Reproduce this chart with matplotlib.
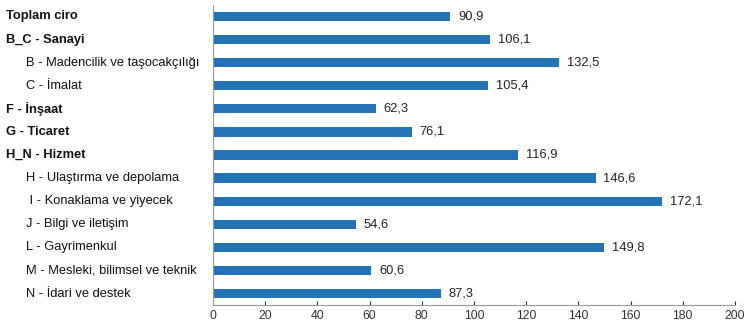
import matplotlib
matplotlib.use("Agg")
import matplotlib.pyplot as plt
from matplotlib.transforms import blended_transform_factory

plt.rcParams['font.family'] = ['Liberation Sans', 'DejaVu Sans']

categories = [
    "Toplam ciro",
    "B_C - Sanayi",
    "B - Madencilik ve taşocakçılığı",
    "C - İmalat",
    "F - İnşaat",
    "G - Ticaret",
    "H_N - Hizmet",
    "H - Ulaştırma ve depolama",
    " I - Konaklama ve yiyecek",
    "J - Bilgi ve iletişim",
    "L - Gayrimenkul",
    "M - Mesleki, bilimsel ve teknik",
    "N - İdari ve destek",
]
values = [90.9, 106.1, 132.5, 105.4, 62.3, 76.1, 116.9, 146.6, 172.1, 54.6, 149.8, 60.6, 87.3]
is_main = [True, True, False, False, True, True, True, False, False, False, False, False, False]
x_ticks = [0, 20, 40, 60, 80, 100, 120, 140, 160, 180, 200]

fig = plt.figure(figsize=(7.5, 3.27), dpi=100)
ax = fig.add_axes([0.284, 0.067, 0.696, 0.918])

ypos = list(range(len(categories)))
ax.barh(ypos, values, height=0.4, color="#2672B6")
for y, v in zip(ypos, values):
    ax.text(v + 3, y, ("%.1f" % v).replace(".", ","), va="center", ha="left",
            fontsize=9.3, color="#222222")

ax.set_ylim(len(categories) - 0.5, -0.5)
ax.set_xlim(0, 200)
ax.set_xticks(x_ticks)
ax.tick_params(axis="x", labelsize=8.8, colors="#333333", length=3, direction="in")
ax.tick_params(axis="y", length=0, labelleft=False)
for s in ["top", "right"]:
    ax.spines[s].set_visible(False)
ax.spines["left"].set_color("#999999")
ax.spines["bottom"].set_color("#999999")

# category labels, subsectors indented
trans = blended_transform_factory(fig.transFigure, ax.transData)
for y, lab, main in zip(ypos, categories, is_main):
    x = 6 if main else 26
    ax.text(x / 750, y, lab, transform=trans, va="center", ha="left",
            fontsize=9.3, color="#111111", fontweight="bold" if main else "normal")

fig.savefig("out.png", dpi=100)
